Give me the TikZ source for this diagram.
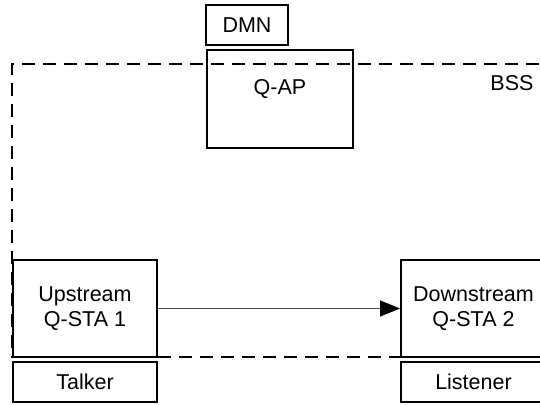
\documentclass[tikz,border=0pt]{standalone}
\usepackage{fontspec}
\setmainfont{Liberation Sans}
\usetikzlibrary{arrows.meta}
\definecolor{filo}{gray}{0.30}

\begin{document}
\begin{tikzpicture}[x=1pt,y=1pt,
    font=\fontsize{21.5}{24.5}\selectfont,
    box/.style={draw,line width=1.9pt,fill=white,inner sep=0pt,align=center},
    bss/.style={line width=2.5pt,dash pattern=on 13pt off 8pt}]
  \useasboundingbox (0,0) rectangle (540,404);
  \clip (0,0) rectangle (540,404);
  % confine del BSS
  \draw[bss] (560,340) -- (12,340) -- (12,47) -- (560,47);
  \node at (512,321) (bsslab) {BSS};
  % access point
  \node[box,minimum width=82pt,minimum height=40pt] (dmn) at (247,379) {DMN};
  \node[draw,line width=1.9pt,minimum width=146pt,minimum height=98pt] (qap) at (280,305) {};
  \node (qaplab) at ([yshift=-40pt]qap.north) {Q-AP};
  % stazioni
  \node[box,minimum width=144pt,minimum height=97pt] (up) at (85,95.5) {Upstream\\Q-STA 1};
  \node[box,minimum width=144pt,minimum height=40pt] (talk) at (85,22) {Talker};
  \node[box,minimum width=145pt,minimum height=97pt] (down) at (473.5,95.5) {Downstream\\Q-STA 2};
  \node[box,minimum width=145pt,minimum height=40pt] (list) at (473.5,22) {Listener};
  \draw[filo,line width=0.8pt,-{Triangle[length=20pt,width=16pt,color=black]}] (up.east) -- (down.west);
\end{tikzpicture}
\end{document}
